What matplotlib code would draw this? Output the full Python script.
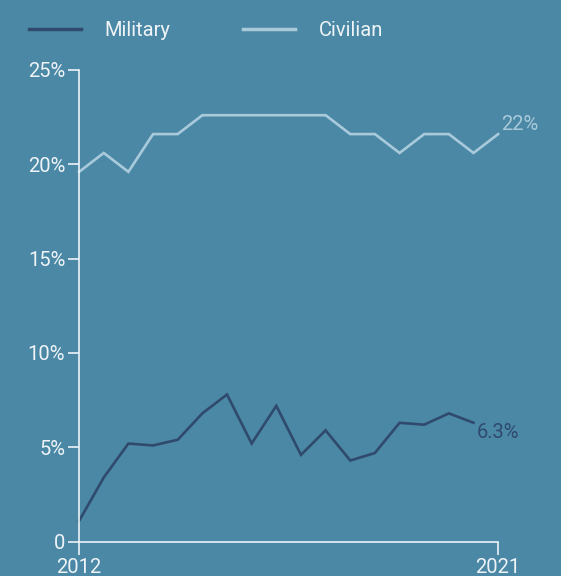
import matplotlib
matplotlib.use("Agg")
import matplotlib.pyplot as plt

plt.rcParams['font.family'] = ['Roboto', 'DejaVu Sans']

military = [1.1, 3.4, 5.2, 5.1, 5.4, 6.8, 7.8, 5.2, 7.2, 4.6, 5.9, 4.3, 4.7, 6.3, 6.2, 6.8, 6.3]
civilian = [19.6, 20.6, 19.6, 21.6, 21.6, 22.6, 22.6, 22.6, 22.6, 22.6, 22.6, 21.6, 21.6, 20.6, 21.6, 21.6, 20.6, 21.6]
yticks = [0, 5, 10, 15, 20, 25]
ytick_labels = ["0", "5%", "10%", "15%", "20%", "25%"]
xtick_labels = ["2012", "2021"]
military_label = "6.3%"
civilian_label = "22%"

BG = "#4b88a5"
MIL = "#2f4a6c"
CIV = "#a9cadb"
TXT = "#eef4f7"
FS = 14.5

fig = plt.figure(figsize=(5.61, 5.76), dpi=100, facecolor=BG)
ax = fig.add_axes([0.141, 0.0596, 0.747, 0.819], facecolor=BG)

ax.plot(range(len(military)), military, color=MIL, lw=1.9, label="Military", solid_joinstyle="miter")
ax.plot(range(len(civilian)), civilian, color=CIV, lw=1.9, label="Civilian", solid_joinstyle="miter")

ax.set_xlim(0, 17)
ax.set_ylim(0, 25)
ax.set_xticks([0, 17])
ax.set_xticklabels(xtick_labels)
ax.set_yticks(yticks)
ax.set_yticklabels(ytick_labels)

for s in ["top", "right"]:
    ax.spines[s].set_visible(False)
for s in ["left", "bottom"]:
    ax.spines[s].set_color(TXT)
    ax.spines[s].set_linewidth(1.2)

ax.tick_params(axis="y", colors=TXT, labelcolor=TXT, length=8, width=1.2, pad=2, labelsize=FS)
ax.tick_params(axis="x", colors=TXT, labelcolor=TXT, length=9, width=1.2, pad=2.5, labelsize=FS)
ax.spines["left"].set_bounds(0, 25)

ax.annotate(military_label, xy=(len(military) - 1, military[-1]), xytext=(2, -7),
            textcoords="offset points", color=MIL, fontsize=FS, va="center", ha="left")
ax.annotate(civilian_label, xy=(len(civilian) - 1, civilian[-1]), xytext=(2, 7),
            textcoords="offset points", color=CIV, fontsize=FS, va="center", ha="left")

leg = fig.legend(loc="upper left", bbox_to_anchor=(0.02, 0.995), ncol=2, frameon=False,
                 fontsize=FS, handlelength=2.55, handletextpad=1.2, columnspacing=3.6,
                 labelcolor=TXT)
for line in leg.get_lines():
    line.set_linewidth(2.5)

for l in ax.lines:
    l.set_clip_on(False)

fig.savefig("out.png", dpi=100, facecolor=BG)
